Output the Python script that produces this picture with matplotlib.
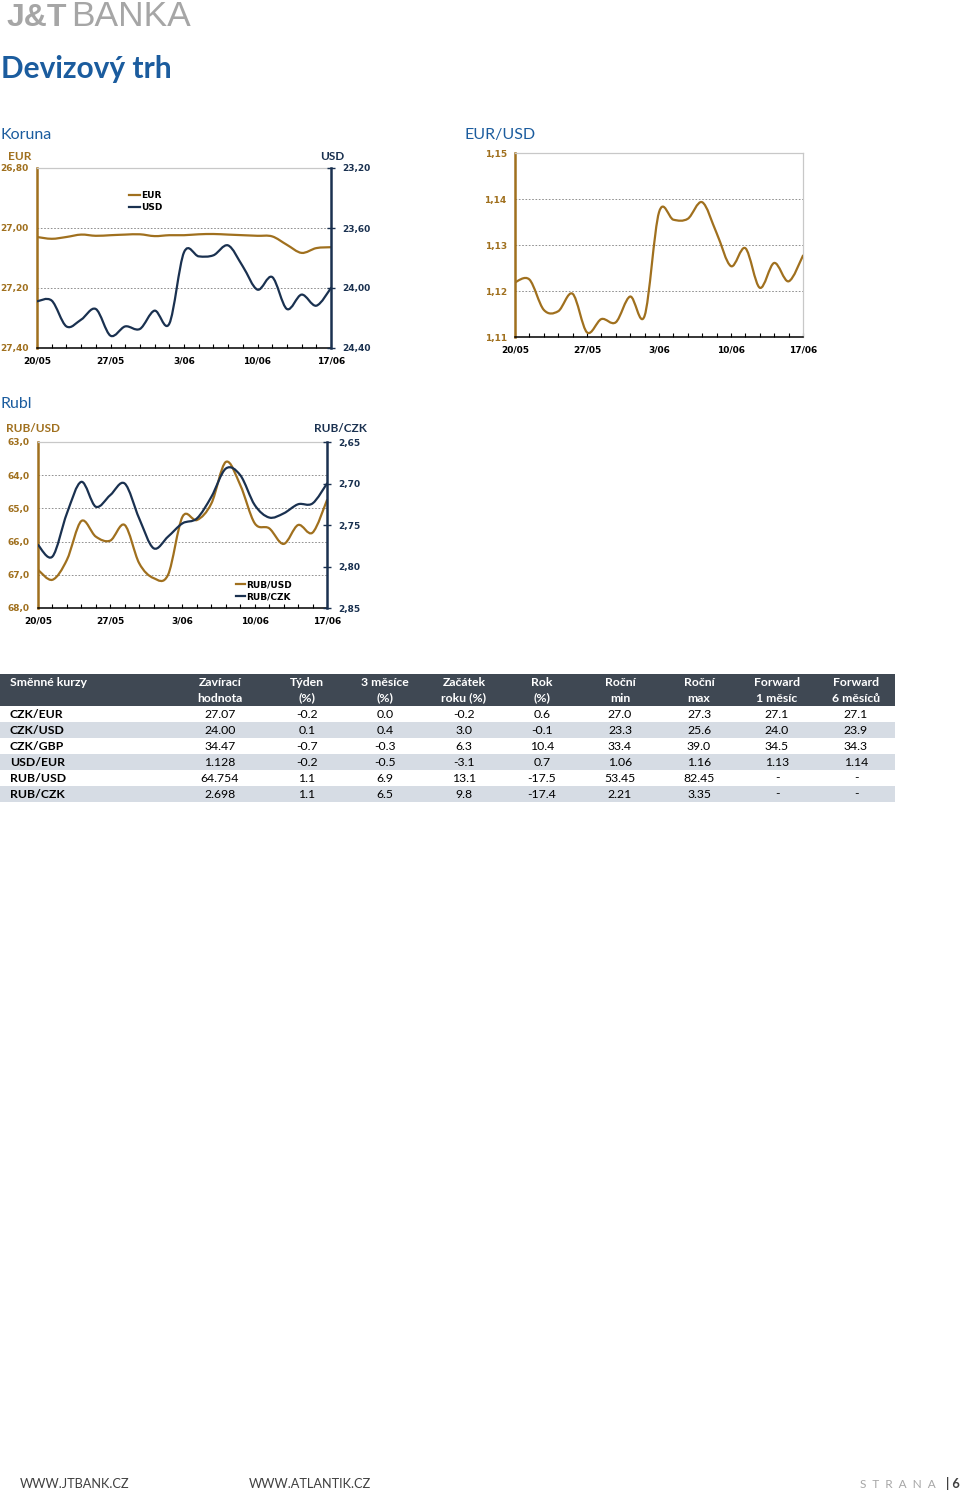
import numpy as np
import matplotlib
matplotlib.use("Agg")
import matplotlib.pyplot as plt
from matplotlib.path import Path
from matplotlib.patches import PathPatch, Rectangle
from matplotlib.lines import Line2D
from matplotlib.ticker import FuncFormatter

# --- data (business days 20/05 - 17/06) ---
dny = list(range(21))
popisky_dnu = ['20/05', '27/05', '3/06', '10/06', '17/06']
pozice_popisku = [0, 5, 10, 15, 20]

czk_eur = [27.030, 27.036, 27.030, 27.022, 27.026, 27.024, 27.022, 27.021, 27.027, 27.024,
           27.024, 27.021, 27.020, 27.022, 27.024, 27.026, 27.028, 27.056, 27.083, 27.067, 27.064]
czk_usd = [24.089, 24.084, 24.256, 24.211, 24.140, 24.318, 24.256, 24.273, 24.151, 24.238,
           23.762, 23.789, 23.782, 23.716, 23.856, 24.011, 23.927, 24.140, 24.044, 24.118, 24.000]
eur_usd = [1.1219, 1.1225, 1.1159, 1.1156, 1.1194, 1.1110, 1.1139, 1.1132, 1.1188, 1.1146,
           1.1371, 1.1355, 1.1357, 1.1393, 1.1326, 1.1254, 1.1293, 1.1207, 1.1261, 1.1221, 1.1277]
rub_usd = [66.85, 67.15, 66.55, 65.38, 65.85, 65.97, 65.50, 66.65, 67.10, 67.00,
           65.25, 65.35, 64.85, 63.60, 64.30, 65.45, 65.60, 66.07, 65.50, 65.73, 64.75]
rub_czk = [2.774, 2.788, 2.736, 2.698, 2.728, 2.714, 2.700, 2.742, 2.778, 2.764,
           2.748, 2.742, 2.716, 2.682, 2.690, 2.726, 2.741, 2.736, 2.725, 2.724, 2.700]

eur_ticks = [26.80, 27.00, 27.20, 27.40]
usd_ticks = [23.20, 23.60, 24.00, 24.40]
eurusd_ticks = [1.11, 1.12, 1.13, 1.14, 1.15]
rubusd_ticks = [63.0, 64.0, 65.0, 66.0, 67.0, 68.0]
rubczk_ticks = [2.65, 2.70, 2.75, 2.80, 2.85]

hlavicka1 = ['Směnné kurzy', 'Zavírací', 'Týden', '3 měsíce', 'Začátek', 'Rok', 'Roční', 'Roční', 'Forward', 'Forward']
hlavicka2 = ['', 'hodnota', '(%)', '(%)', 'roku (%)', '(%)', 'min', 'max', '1 měsíc', '6 měsíců']
pary = ['CZK/EUR', 'CZK/USD', 'CZK/GBP', 'USD/EUR', 'RUB/USD', 'RUB/CZK']
zaviraci = ['27.07', '24.00', '34.47', '1.128', '64.754', '2.698']
tyden = ['-0.2', '0.1', '-0.7', '-0.2', '1.1', '1.1']
tri_mesice = ['0.0', '0.4', '-0.3', '-0.5', '6.9', '6.5']
zacatek_roku = ['-0.2', '3.0', '6.3', '-3.1', '13.1', '9.8']
rok = ['0.6', '-0.1', '10.4', '0.7', '-17.5', '-17.4']
rocni_min = ['27.0', '23.3', '33.4', '1.06', '53.45', '2.21']
rocni_max = ['27.3', '25.6', '39.0', '1.16', '82.45', '3.35']
fwd_1m = ['27.1', '24.0', '34.5', '1.13', '-', '-']
fwd_6m = ['27.1', '23.9', '34.3', '1.14', '-', '-']

# --- style ---
ZLATA = '#A0701E'
MODRA_T = '#1A3150'
MODRA = '#1B5C9E'
GRID = '#7F7F7F'
SANS = ['Lato', 'DejaVu Sans']

W, H = 960, 1495
fig = plt.figure(figsize=(W / 100, H / 100), dpi=100)


def osy_px(l, t, r, b):
    return fig.add_axes([l / W, 1 - b / H, (r - l) / W, (b - t) / H])


def hladka_cara(ax, x, y, barva, lw=1.6):
    # Excel-like smoothed line (Catmull-Rom as cubic Bezier)
    x = np.asarray(x, float)
    y = np.asarray(y, float)
    n = len(x)
    verts = [(x[0], y[0])]
    codes = [Path.MOVETO]
    for i in range(n - 1):
        a = max(i - 1, 0)
        d = min(i + 2, n - 1)
        c1 = (x[i] + (x[i + 1] - x[a]) / 6, y[i] + (y[i + 1] - y[a]) / 6)
        c2 = (x[i + 1] - (x[d] - x[i]) / 6, y[i + 1] - (y[d] - y[i]) / 6)
        verts += [c1, c2, (x[i + 1], y[i + 1])]
        codes += [Path.CURVE4] * 3
    ax.add_patch(PathPatch(Path(verts, codes), fill=False, edgecolor=barva, lw=lw,
                           capstyle='round', joinstyle='round', zorder=3))


def carka(fmt):
    return FuncFormatter(lambda v, p: format(v, fmt).replace('.', ','))


def zaklad(ax, levy_tick, levy_fmt, mrizka):
    ax.set_xlim(dny[0], dny[-1])
    ax.set_xticks(dny)
    ax.set_xticklabels([popisky_dnu[pozice_popisku.index(d)] if d in pozice_popisku else '' for d in dny])
    ax.tick_params(axis='x', direction='in', length=3, width=0.8, color='black', pad=6,
                   labelsize=6.5)
    for lab in ax.get_xticklabels():
        lab.set_fontweight('bold')
    ax.set_yticks(levy_tick)
    ax.yaxis.set_major_formatter(carka(levy_fmt))
    ax.tick_params(axis='y', length=0, pad=6, labelsize=6.5, labelcolor=ZLATA)
    for lab in ax.get_yticklabels():
        lab.set_fontweight('bold')
    for v in mrizka:
        ax.axhline(v, color=GRID, lw=0.6, ls=(0, (2, 2)), zorder=1)
    ax.spines['left'].set_color(ZLATA)
    ax.spines['left'].set_linewidth(1.8)
    ax.spines['bottom'].set_color('black')
    ax.spines['bottom'].set_linewidth(1.1)
    ax.spines['top'].set_color('#C8C8C8')
    ax.spines['top'].set_linewidth(0.9)
    ax.spines['right'].set_visible(False)


def prava_osa(ax, ticks, fmt):
    ax2 = ax.twinx()
    ax2.set_yticks(ticks)
    ax2.yaxis.set_major_formatter(carka(fmt))
    ax2.tick_params(axis='y', direction='inout', length=6, width=1, color=MODRA_T,
                    pad=5, labelsize=6.5, labelcolor=MODRA_T)
    for lab in ax2.get_yticklabels():
        lab.set_fontweight('bold')
    for s in ['left', 'top', 'bottom']:
        ax2.spines[s].set_visible(False)
    ax2.spines['right'].set_color(MODRA_T)
    ax2.spines['right'].set_linewidth(1.8)
    return ax2


# --- page texts ---
fig.text(7 / W, 1 - 26 / H, 'J&T', fontsize=23, fontweight='bold', color='#A6A6A6',
         family=['Liberation Sans', 'DejaVu Sans'], va='baseline', ha='left')
fig.text(71 / W, 1 - 26 / H, 'BANKA', fontsize=25.5, color='#A6A6A6',
         family=['Liberation Sans', 'DejaVu Sans'], va='baseline', ha='left')
fig.text(1 / W, 1 - 69 / H, 'Devizový trh', fontsize=21.5, fontweight='bold', color=MODRA,
         family=SANS, va='center', ha='left')
fig.text(1 / W, 1 - 135 / H, 'Koruna', fontsize=11.5, color=MODRA, family=SANS, va='center')
fig.text(464 / W, 1 - 135 / H, 'EUR/USD', fontsize=11.5, color=MODRA, family=SANS, va='center')
fig.text(1 / W, 1 - 404 / H, 'Rubl', fontsize=11.5, color=MODRA, family=SANS, va='center')

# --- Koruna ---
ax = osy_px(37, 168, 331, 348)
zaklad(ax, eur_ticks, '.2f', [27.00, 27.20])
ax.set_ylim(27.40, 26.80)
hladka_cara(ax, dny, czk_eur, ZLATA)
ax2 = prava_osa(ax, usd_ticks, '.2f')
ax2.set_ylim(24.40, 23.20)
hladka_cara(ax2, dny, czk_usd, MODRA_T)
fig.text(8 / W, 1 - 156 / H, 'EUR', fontsize=8.5, fontweight='bold', color=ZLATA, family=SANS, va='center')
fig.text(320 / W, 1 - 156 / H, 'USD', fontsize=8.5, fontweight='bold', color=MODRA_T, family=SANS, va='center')
fig.legend([Line2D([], [], color=ZLATA, lw=1.6), Line2D([], [], color=MODRA_T, lw=1.6)],
           ['EUR', 'USD'], loc='upper left', bbox_to_anchor=(129 / W, 1 - 191 / H),
           frameon=False, handlelength=1.2, handletextpad=0.15, labelspacing=0.35,
           borderpad=0, borderaxespad=0, prop={'size': 6.5, 'weight': 'bold'})

# --- EUR/USD ---
ax = osy_px(515, 153, 803, 337)
zaklad(ax, eurusd_ticks, '.2f', [1.12, 1.13, 1.14])
ax.set_ylim(1.11, 1.15)
ax.spines['right'].set_visible(True)
ax.spines['right'].set_color('#C8C8C8')
ax.spines['right'].set_linewidth(0.9)
hladka_cara(ax, dny, eur_usd, ZLATA)

# --- Rubl ---
ax = osy_px(38, 442, 327, 608)
zaklad(ax, rubusd_ticks, '.1f', [64.0, 65.0, 66.0, 67.0])
ax.set_ylim(68.0, 63.0)
hladka_cara(ax, dny, rub_usd, ZLATA)
ax2 = prava_osa(ax, rubczk_ticks, '.2f')
ax2.set_ylim(2.85, 2.65)
hladka_cara(ax2, dny, rub_czk, MODRA_T)
fig.text(6 / W, 1 - 429 / H, 'RUB/USD', fontsize=8.5, fontweight='bold', color=ZLATA, family=SANS, va='center')
fig.text(314 / W, 1 - 429 / H, 'RUB/CZK', fontsize=8.5, fontweight='bold', color=MODRA_T, family=SANS, va='center')
fig.legend([Line2D([], [], color=ZLATA, lw=1.6), Line2D([], [], color=MODRA_T, lw=1.6)],
           ['RUB/USD', 'RUB/CZK'], loc='upper left', bbox_to_anchor=(236 / W, 1 - 580 / H),
           frameon=False, handlelength=1.0, handletextpad=0.15, labelspacing=0.35,
           borderpad=0, borderaxespad=0, prop={'size': 6.5, 'weight': 'bold'})

# --- table ---
tab = fig.add_axes([0, 0, 1, 1])
tab.set_xlim(0, W)
tab.set_ylim(H, 0)
tab.axis('off')
tab.add_patch(Rectangle((0, 674), 895, 32, color='#3F4853', lw=0))
stred = [None, 220, 307, 385, 464, 542, 620, 699, 777, 856]
for j in range(len(hlavicka1)):
    x = 10 if j == 0 else stred[j]
    ha = 'left' if j == 0 else 'center'
    tab.text(x, 682, hlavicka1[j], color='white', fontsize=8.8, fontweight='bold', family=SANS, ha=ha, va='center')
    tab.text(x, 698, hlavicka2[j], color='white', fontsize=8.8, fontweight='bold', family=SANS, ha=ha, va='center')
sloupce = [zaviraci, tyden, tri_mesice, zacatek_roku, rok, rocni_min, rocni_max, fwd_1m, fwd_6m]
for i, par in enumerate(pary):
    y0 = 706 + 16 * i
    if i % 2 == 1:
        tab.add_patch(Rectangle((0, y0), 895, 16, color='#D6DCE4', lw=0))
    tab.text(10, y0 + 8, par, fontsize=8.8, fontweight='bold', family=SANS, ha='left', va='center')
    for j, sl in enumerate(sloupce):
        tab.text(stred[j + 1], y0 + 8, sl[i], fontsize=8.8, family=SANS, ha='center', va='center')

# --- footer ---
tab.text(20, 1484, 'WWW.JTBANK.CZ', fontsize=9.2, color='#404040', family=SANS, va='center')
tab.text(249, 1484, 'WWW.ATLANTIK.CZ', fontsize=9.2, color='#404040', family=SANS, va='center')
tab.text(936, 1484, 'S  T  R  A  N  A', fontsize=8.5, color='#A6A6A6', family=SANS, va='center', ha='right')
tab.text(960, 1484, '| 6', fontsize=9.2, fontweight='bold', color='#404040', family=SANS, va='center', ha='right')

fig.savefig('out.png', dpi=100)
